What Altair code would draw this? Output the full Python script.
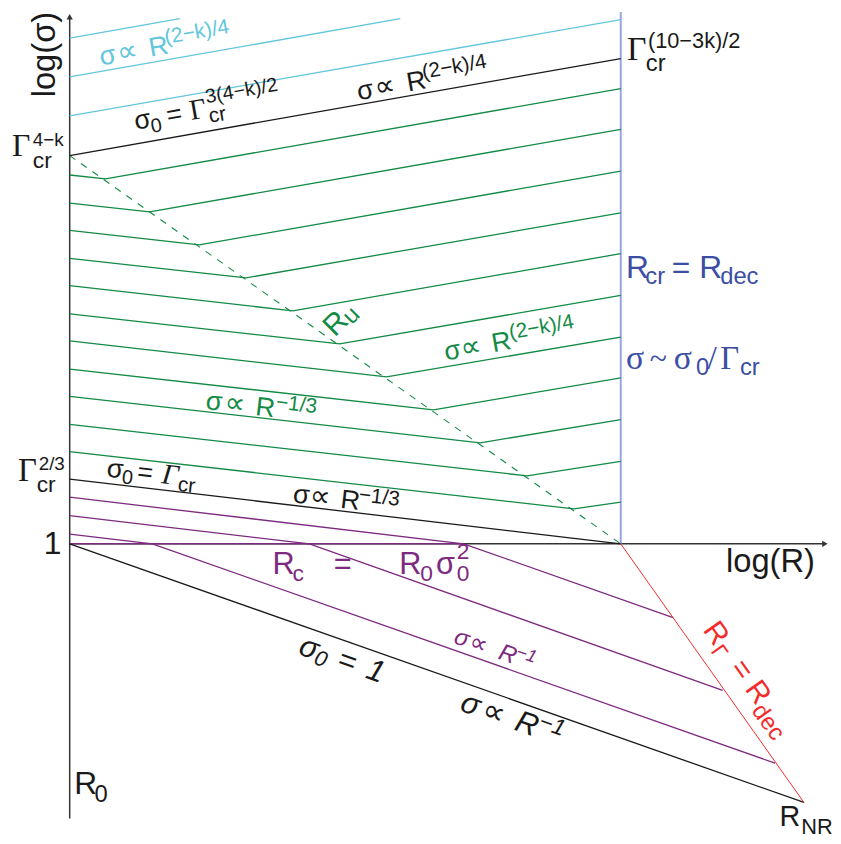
import altair as alt
import pandas as pd

# ---------------- data (log R in units with log(R_cr/R0)=2, log sigma in units of log Gamma_cr) -------------
R_CR = 2.0            # R_cr = R_dec
R_NR = 2.665          # R_NR
SIG_NR = -2.665
SIG_TOP0 = 4.0        # Gamma_cr^{4-k}
SIG_TOP1 = 5.0        # Gamma_cr^{(10-3k)/2}
SIG_GCR = 0.667       # Gamma_cr^{2/3}

cyan_start_sig = [4.41, 4.81, 5.21]
cyan_end_R = [2.0, 1.2, 0.4]
cyan_end_sig = [5.40, 5.41, 5.41]

green_start_sig = [3.80, 3.51, 3.23, 2.94, 2.66, 2.37, 2.09, 1.80, 1.52, 1.23, 0.95]
green_kink_R = [0.13, 0.29, 0.47, 0.64, 0.81, 0.98, 1.15, 1.32, 1.49, 1.66, 1.83]
green_kink_sig = [3.76, 3.42, 3.08, 2.74, 2.40, 2.06, 1.72, 1.38, 1.04, 0.70, 0.36]
green_end_sig = [4.69, 4.27, 3.84, 3.41, 2.99, 2.56, 2.13, 1.71, 1.28, 0.85, 0.43]

purple_start_sig = [0.48, 0.29, 0.10]
purple_kink_R = [1.43, 0.87, 0.30]
purple_end_R = [2.19, 2.37, 2.56]
purple_end_sig = [-0.76, -1.51, -2.26]

RU_LINE = [(0.0, 4.0), (2.0, 0.0)]
AXIS_R_MAX = 2.741
AXIS_SIG_MIN = -2.83
AXIS_SIG_MAX = 5.43

# ---------------- styling ----------------
SANS = "Liberation Sans"
SERIF = "Liberation Serif"
SYM = "DejaVu Sans"
CYAN = "#62C6DC"
GREEN = "#138A45"
PURPLE = "#7D2A80"
BLACK = "#1A1A1A"
RED = "#F32B2B"
BLUE_LINE = "#94A7DA"
BLUE_TXT = "#3B4EA3"

XMIN, XMAX = -0.2239, 2.7703
YMIN, YMAX = -2.9694, 5.4796

xs = alt.Scale(domain=[XMIN, XMAX], nice=False, zero=False)
ys = alt.Scale(domain=[YMIN, YMAX], nice=False, zero=False)
XE = alt.X("logR:Q", scale=xs, axis=None)
YE = alt.Y("logS:Q", scale=ys, axis=None)


def seg_df(polys):
    rows = []
    for i, pts in enumerate(polys):
        for k, (x, y) in enumerate(pts):
            rows.append({"id": i, "k": k, "logR": x, "logS": y})
    return pd.DataFrame(rows)


def lines(polys, color, width=1.3, dash=None):
    kw = dict(color=color, strokeWidth=width, clip=False)
    if dash:
        kw["strokeDash"] = dash
    return alt.Chart(seg_df(polys)).mark_line(**kw).encode(
        x=XE, y=YE, detail="id:N", order="k:Q")


def txt(t, x, y, size, color, font=SANS, angle=0, dx=0, dy=0, align="left", style="normal"):
    df = pd.DataFrame({"logR": [x], "logS": [y], "t": [t]})
    return alt.Chart(df).mark_text(
        align=align, baseline="alphabetic", font=font, fontSize=size, color=color,
        angle=angle, dx=dx, dy=dy, fontStyle=style, clip=False
    ).encode(x=XE, y=YE, text="t:N")


def rot_label(x, y, angle, color, pieces, style="normal"):
    out = []
    for p in pieces:
        t, dx, dy, size = p[:4]
        font = p[4] if len(p) > 4 else SANS
        st = p[5] if len(p) > 5 else style
        out.append(txt(t, x, y, size, color, font=font, angle=angle, dx=dx, dy=dy, style=st))
    return out


layers = []

# ---------------- curves ----------------
cyan_polys = [[(0.0, s), (r, e)] for s, r, e in zip(cyan_start_sig, cyan_end_R, cyan_end_sig)]
green_polys = [[(0.0, s), (kr, ks), (R_CR, e)]
               for s, kr, ks, e in zip(green_start_sig, green_kink_R, green_kink_sig, green_end_sig)]
purple_polys = [[(0.0, s), (kr, 0.0), (er, es)]
                for s, kr, er, es in zip(purple_start_sig, purple_kink_R, purple_end_R, purple_end_sig)]
black_polys = [[(0.0, SIG_TOP0), (R_CR, SIG_TOP1)],
               [(0.0, SIG_GCR), (R_CR, 0.0)],
               [(0.0, 0.0), (R_NR, SIG_NR)]]

layers.append(lines([[(0.0, 0.0), (AXIS_R_MAX, 0.0)]], "#333333", 1.5))
layers.append(lines([[(0.0, AXIS_SIG_MIN), (0.0, AXIS_SIG_MAX)]], "#333333", 1.5))
layers.append(lines([[(0.0, 0.0), (max(purple_kink_R), 0.0)]], PURPLE, 1.5))
layers.append(lines([[(R_CR, 0.0), (R_CR, YMAX)]], BLUE_LINE, 2.0))
layers.append(lines(cyan_polys, CYAN, 1.3))
layers.append(lines(green_polys, GREEN, 1.3))
layers.append(lines([RU_LINE], GREEN, 1.1, dash=[7, 7]))
layers.append(lines(purple_polys, PURPLE, 1.3))
layers.append(lines(black_polys, BLACK, 1.3))
layers.append(lines([[(R_CR, 0.0), (R_NR, SIG_NR)]], RED, 1.0))

# arrow heads
arr = pd.DataFrame({"logR": [0.0, AXIS_R_MAX], "logS": [AXIS_SIG_MAX, 0.0]})
layers.append(alt.Chart(arr.iloc[[0]]).mark_point(shape="triangle-up", filled=True, size=40,
                                                  color="#333333", opacity=1, clip=False).encode(x=XE, y=YE))
layers.append(alt.Chart(arr.iloc[[1]]).mark_point(shape="triangle-right", filled=True, size=40,
                                                  color="#333333", opacity=1, clip=False).encode(x=XE, y=YE))

# ---------------- axis labels ----------------
layers.append(txt("log(σ)", -0.055, 5.041, 33, BLACK, angle=270, align="center"))
layers.append(txt("log(R)", 2.382, -0.286, 33, BLACK))
layers.append(txt("1", -0.0298, -0.102, 32, BLACK, align="right"))
layers.append(txt("R", 0.0169, -2.582, 32, BLACK))
layers.append(txt("0", 0.090, -2.663, 24, BLACK))
layers.append(txt("R", 2.576, -2.908, 29, BLACK))
layers.append(txt("NR", 2.6553, -2.990, 22, BLACK))

layers.append(txt("Γ", -0.2096, 4.0, 32, BLACK, font=SERIF))
layers.append(txt("4−k", -0.134, 4.102, 19, BLACK))
layers.append(txt("cr", -0.134, 3.867, 23, BLACK))

layers.append(txt("Γ", -0.188, 0.646, 33, BLACK, font=SERIF))
layers.append(txt("2/3", -0.1125, 0.765, 19, BLACK))
layers.append(txt("cr", -0.1197, 0.531, 23, BLACK))

layers.append(txt("Γ", 2.0227, 4.980, 34, BLACK, font=SERIF))
layers.append(txt("(10−3k)/2", 2.0985, 5.112, 22, BLACK))
layers.append(txt("cr", 2.0909, 4.867, 24, BLACK))

# blue labels
layers.append(txt("R", 2.019, 2.735, 32, BLUE_TXT))
layers.append(txt("cr", 2.0892, 2.673, 24, BLUE_TXT))
layers.append(txt("=", 2.185, 2.735, 32, BLUE_TXT))
layers.append(txt("R", 2.2851, 2.735, 32, BLUE_TXT))
layers.append(txt("dec", 2.3609, 2.673, 24, BLUE_TXT))

layers.append(txt("σ", 2.019, 1.806, 34, BLUE_TXT, font=SERIF))
layers.append(txt("~", 2.1053, 1.806, 32, BLUE_TXT, font=SERIF))
layers.append(txt("σ", 2.1923, 1.806, 34, BLUE_TXT, font=SERIF))
layers.append(txt("0", 2.2734, 1.735, 24, BLUE_TXT))
layers.append(txt("/", 2.3152, 1.806, 34, BLUE_TXT, font=SERIF))
layers.append(txt("Γ", 2.3609, 1.806, 33, BLUE_TXT, font=SERIF))
layers.append(txt("cr", 2.4327, 1.735, 24, BLUE_TXT))

# purple R_c = R_0 sigma_0^2
layers.append(txt("R", 0.7358, -0.306, 31, PURPLE))
layers.append(txt("c", 0.8085, -0.388, 23, PURPLE))
layers.append(txt("=", 0.9587, -0.306, 31, PURPLE))
layers.append(txt("R", 1.1959, -0.306, 31, PURPLE))
layers.append(txt("0", 1.2721, -0.388, 23, PURPLE))
layers.append(txt("σ", 1.3293, -0.306, 31, PURPLE))
layers.append(txt("2", 1.4048, -0.153, 23, PURPLE))
layers.append(txt("0", 1.4048, -0.388, 23, PURPLE))

# ---------------- rotated labels ----------------
ANG_UP, ANG_M13, ANG_M1, ANG_RED, ANG_RU = 350, 6.7, 19.4, 54.6, 315

layers += rot_label(0.1139, 4.929, ANG_UP, CYAN,
                    [("σ", 0, 0, 27), ("∝", 18, 0, 29, SYM), ("R", 50.8, 0, 27), ("(2−k)/4", 68, -10, 21)])
layers += rot_label(0.2398, 4.265, ANG_UP, BLACK,
                    [("σ", 0, 0, 27), ("0", 15.5, 6, 20), ("=", 33, 0, 27), ("Γ", 57, 0, 29, SERIF),
                     ("cr", 75, 6, 21), ("3(4−k)/2", 75, -14, 20)])
layers += rot_label(1.0485, 4.571, ANG_UP, BLACK,
                    [("σ", 0, 0, 27), ("∝", 18, 0, 29, SYM), ("R", 50.8, 0, 27), ("(2−k)/4", 68, -10, 21)])
layers += rot_label(1.3648, 1.888, ANG_UP, GREEN,
                    [("σ", 0, 0, 27), ("∝", 17, 0, 29, SYM), ("R", 48.7, 0, 27), ("(2−k)/4", 68, -10, 21)])
layers += rot_label(0.4914, 1.388, ANG_M13, GREEN,
                    [("σ", 0, 0, 27), ("∝", 19, 0, 29, SYM), ("R", 50.4, 0, 27), ("−1/3", 70.5, -9, 21)])
layers += rot_label(0.1319, 0.694, ANG_M13, BLACK,
                    [("σ", 0, 0, 27), ("0", 16, 5, 20), ("=", 31, 0, 27), ("Γ", 56, 0, 29, SERIF, "italic"),
                     ("cr", 73, 6, 21)])
layers += rot_label(0.8077, 0.4286, ANG_M13, BLACK,
                    [("σ", 0, 0, 27), ("∝", 17, 0, 29, SYM), ("R", 48.3, 0, 27), ("−1/3", 66, -9, 21)])
layers += rot_label(1.390, -1.020, ANG_M1, PURPLE,
                    [("σ", 0, 0, 24), ("∝", 16, 0, 25, SYM), ("R", 47.6, 0, 24), ("−1", 64, -8, 18)],
                    style="italic")
layers += rot_label(0.8257, -1.133, ANG_M1, BLACK,
                    [("σ", 0, 0, 31), ("0", 18, 4, 22), ("=", 41, 0, 31), ("1", 72, 0, 31)],
                    style="italic")
layers += rot_label(1.4116, -1.714, ANG_M1, BLACK,
                    [("σ", 0, 0, 31), ("∝", 23, 0, 32, SYM), ("R", 58.5, 0, 31), ("−1", 81, -10, 23)],
                    style="italic")
layers += rot_label(2.2958, -0.888, ANG_RED, RED,
                    [("R", 0, 0, 30), ("Γ", 22, 6, 22), ("=", 47, 0, 30), ("R", 73, 0, 30),
                     ("dec", 95, 7, 24)])
layers += rot_label(0.9623, 2.122, ANG_RU, GREEN, [("R", 0, 0, 30), ("u", 21, 3, 24)])

chart = alt.layer(*layers).properties(
    width=833, height=828, padding=0,
    autosize=alt.AutoSizeParams(type="none"),
    background="white",
).configure_view(stroke=None)

chart.save("out.html", embed_options={"renderer": "svg", "actions": False})
